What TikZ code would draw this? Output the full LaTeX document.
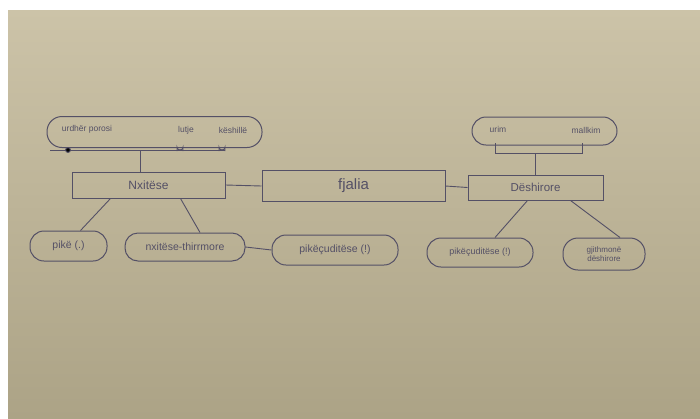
\documentclass[tikz,border=0pt]{standalone}
\usepackage{fontspec}
\setmainfont{Liberation Sans}
\usetikzlibrary{calc}
\definecolor{paperT}{RGB}{204,195,168}
\definecolor{paperB}{RGB}{172,163,134}
\definecolor{ink}{RGB}{84,80,102}
\tikzset{
  ink/.style={draw=ink, line width=1pt},
  boxnode/.style={ink, rectangle, inner sep=0pt, text=ink},
  blob/.style={ink, rectangle, rounded corners=13pt, inner sep=0pt, text=ink, align=center},
  lbl/.style={text=ink, inner sep=0pt},
  conn/.style={draw=ink, line width=0.9pt}
}
\begin{document}
\begin{tikzpicture}[x=1pt,y=-1pt]
\useasboundingbox (0,0) rectangle (700,418);
\fill[white] (0,0) rectangle (700,418);
\shade[top color=paperT, bottom color=paperB] (8,10) rectangle (700,418);

% central row
\node[boxnode, minimum width=183pt, minimum height=31pt, font=\fontsize{15}{17}\selectfont] (fj) at (353.5,186) {fjalia};
\node[boxnode, minimum width=153pt, minimum height=26pt, font=\fontsize{12}{14}\selectfont] (nx) at (148.5,185) {Nxitëse};
\node[boxnode, minimum width=135pt, minimum height=25pt, font=\fontsize{11.5}{13}\selectfont] (ds) at (535.5,187.5) {Dëshirore};

% top left blob
\node[blob, minimum width=215pt, minimum height=31pt, rounded corners=15pt] (tl) at (154.5,132) {};
\node[lbl, font=\fontsize{8.5}{10}\selectfont] (tla) at (87,129) {urdhër porosi};
\node[lbl, font=\fontsize{8.5}{10}\selectfont] (tlb) at (186,130) {lutje};
\node[lbl, font=\fontsize{8.5}{10}\selectfont] (tlc) at (233,130) {këshillë};
\coordinate (tlu1) at (50,150);
\coordinate (tlu2) at (225,150);
\coordinate (tld) at (140,150);
\draw[conn] (tlu1) -- (tlu2);
\fill[ink] (68,150) circle (2.4pt);
\draw[conn] (177,151) -- (177,147) arc (180:360:3pt) -- (183,151);
\draw[conn] (219,151) -- (219,147) arc (180:360:3pt) -- (225,151);
\draw[conn] (tld) -- ([xshift=-8.5pt]nx.north);

% top right blob
\node[blob, minimum width=145pt, minimum height=28pt, rounded corners=14pt] (tr) at (544.5,131) {};
\node[lbl, font=\fontsize{8.5}{10}\selectfont] (tra) at (498,129) {urim};
\node[lbl, font=\fontsize{8.5}{10}\selectfont] (trb) at (586,130) {mallkim};
\coordinate (trl) at (495,143);
\coordinate (trr) at (582,143);
\coordinate (trd) at (535,153);
\draw[conn] (trl) -- (495,153) -- (582,153) -- (trr);
\draw[conn] (trd) -- ([xshift=-0.5pt]ds.north);

% bottom blobs
\node[blob, minimum width=77pt, minimum height=30pt, rounded corners=14pt, font=\fontsize{10.5}{12}\selectfont] (p1) at (68.5,246) {pikë (.)};
\node[blob, minimum width=120pt, minimum height=28pt, font=\fontsize{10.5}{12}\selectfont] (p2) at (185,247) {nxitëse-thirrmore};
\node[blob, minimum width=126pt, minimum height=30pt, rounded corners=14pt, font=\fontsize{10.5}{12}\selectfont] (p3) at (335,250) {pikëçuditëse (!)};
\node[blob, minimum width=106pt, minimum height=29pt, rounded corners=14pt, font=\fontsize{9}{10}\selectfont] (p4) at (480,252.5) {pikëçuditëse (!)};
\node[blob, minimum width=82pt, minimum height=32pt, rounded corners=15pt, font=\fontsize{8}{9}\selectfont] (p5) at (604,254) {gjithmonë\\dëshirore};

% connectors
\draw[conn] (nx.east) -- (fj.west);
\draw[conn] (fj.east) -- (ds.west);
\draw[conn] ([xshift=-38pt]nx.south) -- ([xshift=12pt]p1.north);
\draw[conn] ([xshift=32pt]nx.south) -- ([xshift=15pt]p2.north);
\draw[conn] (p2.east) -- (p3.west);
\draw[conn] ([xshift=-8pt]ds.south) -- ([xshift=15pt]p4.north);
\draw[conn] ([xshift=35pt]ds.south) -- ([xshift=16pt]p5.north);
\end{tikzpicture}
\end{document}
